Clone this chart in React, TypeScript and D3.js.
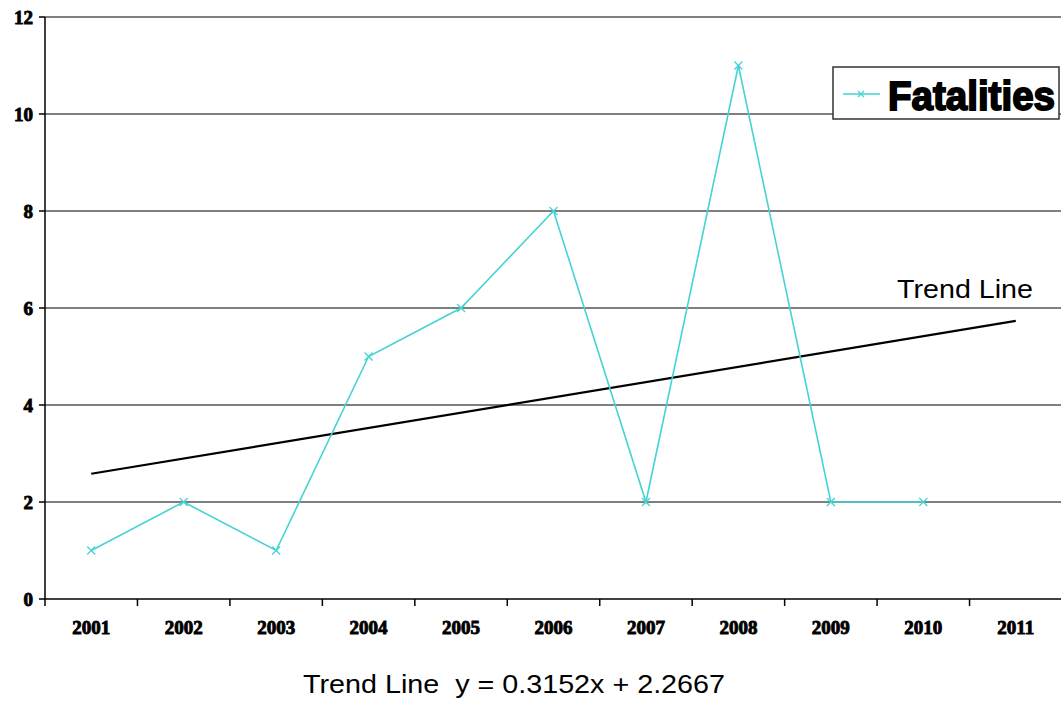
import React from "react";
import * as d3 from "d3";

const years = ["2001", "2002", "2003", "2004", "2005", "2006", "2007", "2008", "2009", "2010", "2011"];
const fatalities: (number | null)[] = [1, 2, 1, 5, 6, 8, 2, 11, 2, 2, null];
const yTicks = [0, 2, 4, 6, 8, 10, 12];
const trendSlope = 0.3152;
const trendIntercept = 2.2667;
const trendLabel = "Trend Line";
const equationLabel = "Trend Line  y = 0.3152x + 2.2667";
const seriesName = "Fatalities";

const W = 1061;
const H = 704;
const left = 45;
const right = 1062;
const top = 17;
const bottom = 599;
const cyan = "#45d3d3";

export default function App() {
  const x = d3.scaleBand<string>().domain(years).range([left, right]).padding(0);
  const y = d3.scaleLinear().domain([0, 12]).range([bottom, top]);
  const cx = (i: number) => (x(years[i]) as number) + x.bandwidth() / 2;

  const pts = fatalities
    .map((v, i) => (v == null ? null : ([cx(i), y(v)] as [number, number])))
    .filter((p): p is [number, number] => p !== null);
  const line = d3.line<[number, number]>()(pts) as string;

  const trendPts: [number, number][] = [
    [cx(0), y(trendSlope * 1 + trendIntercept)],
    [cx(years.length - 1), y(trendSlope * years.length + trendIntercept)],
  ];
  const trend = d3.line<[number, number]>()(trendPts) as string;

  const mk = 4;
  const tickFont = {
    fontFamily: "'Liberation Serif', 'Times New Roman', serif",
    fontWeight: 700,
    fontSize: 19,
    stroke: "#000",
    strokeWidth: 0.9,
    fill: "#000",
  } as const;

  return (
    <svg width={W} height={H} style={{ position: "absolute", left: 0, top: 0, background: "#fff" }}>
      <rect x={0} y={0} width={W} height={H} fill="#fff" />
      {yTicks.filter((t) => t > 0).map((t) => (
        <line key={t} x1={left} x2={right} y1={y(t)} y2={y(t)} stroke="#000" strokeWidth={1.2} />
      ))}
      <line x1={left} x2={left} y1={top} y2={bottom} stroke="#000" strokeWidth={1.5} />
      {yTicks.map((t) => (
        <g key={"yt" + t}>
          <line x1={left - 6} x2={left} y1={y(t)} y2={y(t)} stroke="#000" strokeWidth={1.5} />
          <text x={33} y={y(t) + 6.5} textAnchor="end" {...tickFont}>{t}</text>
        </g>
      ))}
      <line x1={left} x2={right} y1={bottom} y2={bottom} stroke="#000" strokeWidth={1.5} />
      {years.map((yr, i) => (
        <g key={yr}>
          <line x1={x(yr) as number} x2={x(yr) as number} y1={bottom} y2={bottom + 7} stroke="#000" strokeWidth={1.5} />
          <text x={cx(i)} y={634} textAnchor="middle" {...tickFont}>{yr}</text>
        </g>
      ))}
      <path d={trend} fill="none" stroke="#000" strokeWidth={2.2} />
      <text x={897} y={298} textLength={136} lengthAdjust="spacingAndGlyphs" fontFamily="'Liberation Sans', Arial, sans-serif" fontSize={26} fill="#000">{trendLabel}</text>
      <path d={line} fill="none" stroke={cyan} strokeWidth={1.6} />
      {pts.map(([px, py], i) => (
        <g key={"m" + i} stroke={cyan} strokeWidth={1.3}>
          <line x1={px - mk} x2={px + mk} y1={py - mk} y2={py + mk} />
          <line x1={px - mk} x2={px + mk} y1={py + mk} y2={py - mk} />
        </g>
      ))}
      <rect x={833} y={67} width={226} height={52} fill="#fff" stroke="#333" strokeWidth={1.5} />
      <line x1={843} x2={880} y1={94} y2={94} stroke={cyan} strokeWidth={1.6} />
      <g stroke={cyan} strokeWidth={1.3}>
        <line x1={858} x2={864} y1={91} y2={97} />
        <line x1={858} x2={864} y1={97} y2={91} />
      </g>
      <text x={888} y={110} textLength={167} lengthAdjust="spacingAndGlyphs" fontFamily="'Liberation Sans', Arial, sans-serif" fontWeight={700} fontSize={40} stroke="#000" strokeWidth={1.8} fill="#000">{seriesName}</text>
      <text x={303} y={693} textLength={422} lengthAdjust="spacingAndGlyphs" xmlSpace="preserve" style={{ whiteSpace: "pre" }} fontFamily="'Liberation Sans', Arial, sans-serif" fontSize={26} fill="#000">{equationLabel}</text>
    </svg>
  );
}
